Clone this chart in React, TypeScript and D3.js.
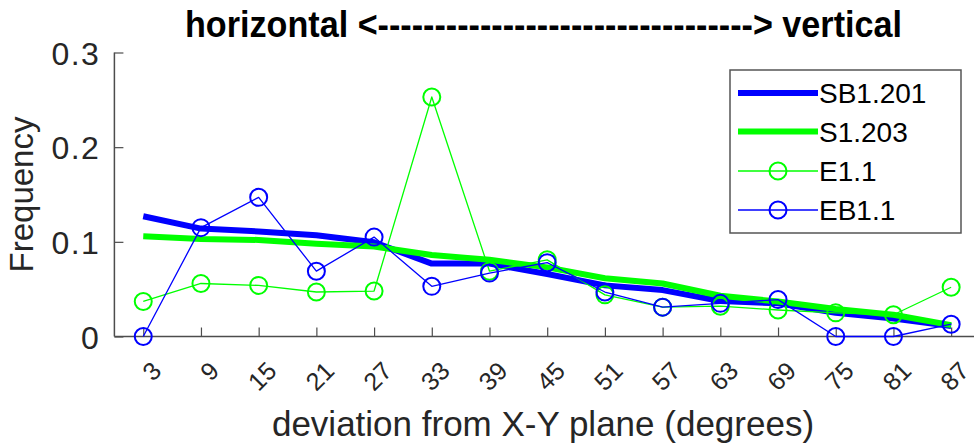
import { useEffect, useRef } from 'react';
import * as d3 from 'd3';

const degrees = [3, 9, 15, 21, 27, 33, 39, 45, 51, 57, 63, 69, 75, 81, 87];
const sb1201 = [0.127, 0.114, 0.111, 0.107, 0.0995, 0.077, 0.077, 0.066, 0.054, 0.049, 0.0375, 0.035, 0.025, 0.019, 0.011];
const s1203 = [0.106, 0.103, 0.102, 0.098, 0.095, 0.086, 0.081, 0.073, 0.0615, 0.056, 0.043, 0.037, 0.029, 0.023, 0.012];
const e11 = [0.037, 0.056, 0.054, 0.047, 0.048, 0.253, 0.069, 0.081, 0.044, 0.031, 0.032, 0.028, 0.025, 0.023, 0.052];
const eb11 = [0, 0.115, 0.147, 0.069, 0.105, 0.053, 0.067, 0.078, 0.047, 0.031, 0.035, 0.039, 0, 0, 0.013];
const yTicks = [0, 0.1, 0.2, 0.3];

const BLUE = '#0000ff';
const GREEN = '#00ff00';
const FONT = '"Liberation Sans", Arial, sans-serif';

const series = [
  { name: 'SB1.201', values: sb1201, color: BLUE, width: 6, marker: false },
  { name: 'S1.203', values: s1203, color: GREEN, width: 6, marker: false },
  { name: 'E1.1', values: e11, color: GREEN, width: 1.3, marker: true },
  { name: 'EB1.1', values: eb11, color: BLUE, width: 1.3, marker: true },
];

export default function App() {
  const ref = useRef<SVGSVGElement>(null);

  useEffect(() => {
    const svg = d3.select(ref.current);
    svg.selectAll('*').remove();

    const left = 114.4, right = 980, top = 52.5, bottom = 336.5;
    const x = d3.scaleLinear().domain([0, 90]).range([left, right]);
    const y = d3.scaleLinear().domain([0, 0.3]).range([bottom, top]);
    const axisColor = '#4d4d4d';

    // title
    svg.append('text')
      .attr('x', 185).attr('y', 37)
      .attr('textLength', 717).attr('lengthAdjust', 'spacingAndGlyphs')
      .style('font-family', FONT).style('font-weight', 'bold').style('font-size', '36px')
      .text('horizontal <' + '-'.repeat(33) + '> vertical');

    // axes
    const gy = svg.append('g').attr('transform', `translate(${left},0)`)
      .call(d3.axisLeft(y).tickValues(yTicks).tickSize(-9).tickPadding(14).tickFormat(d => d === 0 ? '0' : d3.format('.1f')(d as number)));
    gy.select('.domain').attr('stroke', axisColor).attr('stroke-width', 1.5).attr('d', `M-0,${top}V${bottom}`);
    gy.selectAll('.tick line').attr('stroke', axisColor).attr('stroke-width', 1.2);
    gy.selectAll('.tick text').attr('fill', '#262626').style('font-family', FONT).style('font-size', '32px')
      .style('letter-spacing', '1.5px').attr('dy', '0.36em');

    const gx = svg.append('g').attr('transform', `translate(0,${bottom})`)
      .call(d3.axisBottom(x).tickValues(degrees).tickSize(-9).tickFormat(() => ''));
    gx.select('.domain').attr('stroke', axisColor).attr('stroke-width', 1.5).attr('d', `M${left},0H${right}`);
    gx.selectAll('.tick line').attr('stroke', axisColor).attr('stroke-width', 1.2);

    svg.append('g').selectAll('text').data(degrees).enter().append('text')
      .attr('transform', d => `translate(${x(d) + 19.5},372.5) rotate(-45)`)
      .attr('text-anchor', 'end')
      .attr('fill', '#262626')
      .style('font-family', FONT).style('font-size', '25px')
      .text(d => d);

    svg.append('text')
      .attr('transform', `translate(33,${(top + bottom) / 2}) rotate(-90)`)
      .attr('text-anchor', 'middle').attr('fill', '#262626')
      .style('font-family', FONT).style('font-size', '33px')
      .text('Frequency');

    svg.append('text')
      .attr('x', 543).attr('y', 436)
      .attr('text-anchor', 'middle').attr('fill', '#262626')
      .style('font-family', FONT).style('font-size', '35px')
      .text('deviation from X-Y plane (degrees)');

    // data
    const line = d3.line<number>().x((_, i) => x(degrees[i])).y(d => y(d));
    series.forEach(s => {
      svg.append('path').datum(s.values)
        .attr('d', line).attr('fill', 'none')
        .attr('stroke', s.color).attr('stroke-width', s.width)
        .attr('stroke-linejoin', 'round');
      if (s.marker) {
        svg.append('g').selectAll('circle').data(s.values).enter().append('circle')
          .attr('cx', (_, i) => x(degrees[i])).attr('cy', d => y(d))
          .attr('r', 8.5).attr('fill', 'none')
          .attr('stroke', s.color).attr('stroke-width', 2);
      }
    });

    // legend
    const lg = svg.append('g');
    lg.append('rect').attr('x', 730).attr('y', 70).attr('width', 231).attr('height', 163)
      .attr('fill', '#fff').attr('stroke', '#555').attr('stroke-width', 1.5);
    const rowY = [93, 131.5, 171, 210];
    series.forEach((s, i) => {
      const yy = rowY[i];
      lg.append('line').attr('x1', 738).attr('x2', 818).attr('y1', yy).attr('y2', yy)
        .attr('stroke', s.color).attr('stroke-width', s.width);
      if (s.marker) {
        lg.append('circle').attr('cx', 778).attr('cy', yy).attr('r', 8.5)
          .attr('fill', 'none').attr('stroke', s.color).attr('stroke-width', 2);
      }
      lg.append('text').attr('x', 819).attr('y', yy).attr('dy', '0.36em')
        .attr('fill', '#000')
        .style('font-family', FONT).style('font-size', '28px')
        .text(s.name);
    });
  }, []);

  return (
    <svg ref={ref} width={974} height={448}
      style={{ position: 'absolute', left: 0, top: 0, background: '#fff' }} />
  );
}
